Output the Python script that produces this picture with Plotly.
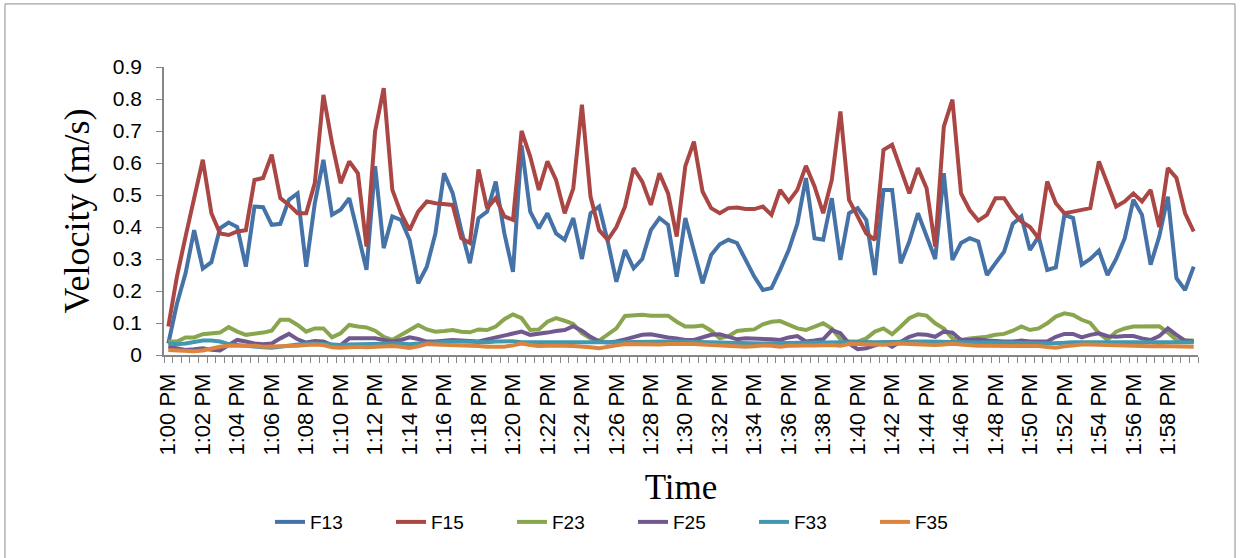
import pandas as pd
import plotly.graph_objects as go

# Time stamps: one sample every 30 s from 1:00 PM to 1:59:30 PM
times = pd.date_range("2000-01-01 13:00:00", periods=120, freq="30s")

tick_times = pd.date_range("2000-01-01 13:00:00", periods=30, freq="2min")
tick_labels = ["1:00 PM", "1:02 PM", "1:04 PM", "1:06 PM", "1:08 PM", "1:10 PM",
               "1:12 PM", "1:14 PM", "1:16 PM", "1:18 PM", "1:20 PM", "1:22 PM",
               "1:24 PM", "1:26 PM", "1:28 PM", "1:30 PM", "1:32 PM", "1:34 PM",
               "1:36 PM", "1:38 PM", "1:40 PM", "1:42 PM", "1:44 PM", "1:46 PM",
               "1:48 PM", "1:50 PM", "1:52 PM", "1:54 PM", "1:56 PM", "1:58 PM"]

F13 = [0.036, 0.16, 0.255, 0.39, 0.27, 0.29, 0.396, 0.414, 0.40, 0.276,
       0.464, 0.462, 0.407, 0.41, 0.485, 0.505, 0.276, 0.474, 0.61, 0.438,
       0.454, 0.49, 0.38, 0.266, 0.59, 0.334, 0.433, 0.422, 0.36, 0.224,
       0.276, 0.38, 0.568, 0.506, 0.39, 0.287, 0.428, 0.448, 0.542, 0.38,
       0.26, 0.655, 0.448, 0.396, 0.443, 0.38, 0.36, 0.428, 0.30, 0.443,
       0.464, 0.355, 0.229, 0.328, 0.271, 0.30, 0.39, 0.428, 0.407, 0.245,
       0.428, 0.323, 0.224, 0.313, 0.346, 0.36, 0.35, 0.297, 0.245, 0.203,
       0.209, 0.266, 0.328, 0.41, 0.553, 0.365, 0.36, 0.49, 0.297, 0.443,
       0.459, 0.422, 0.25, 0.516, 0.516, 0.287, 0.355, 0.443, 0.375, 0.30,
       0.568, 0.297, 0.35, 0.365, 0.355, 0.25, 0.287, 0.323, 0.41, 0.433,
       0.328, 0.37, 0.266, 0.274, 0.438, 0.428, 0.282, 0.30, 0.326, 0.25,
       0.30, 0.365, 0.485, 0.438, 0.282, 0.37, 0.495, 0.24, 0.203, 0.276]

F15 = [0.089, 0.245, 0.37, 0.485, 0.61, 0.443, 0.38, 0.375, 0.386, 0.39,
       0.547, 0.553, 0.626, 0.49, 0.469, 0.443, 0.443, 0.537, 0.813, 0.662,
       0.537, 0.605, 0.568, 0.339, 0.699, 0.834, 0.516, 0.443, 0.39, 0.448,
       0.48, 0.474, 0.472, 0.469, 0.365, 0.35, 0.58, 0.459, 0.49, 0.433,
       0.422, 0.70, 0.62, 0.516, 0.605, 0.547, 0.443, 0.521, 0.782, 0.495,
       0.39, 0.36, 0.40, 0.464, 0.584, 0.542, 0.469, 0.568, 0.505, 0.37,
       0.59, 0.667, 0.511, 0.459, 0.443, 0.459, 0.461, 0.456, 0.456, 0.464,
       0.438, 0.516, 0.48, 0.516, 0.591, 0.527, 0.443, 0.547, 0.761, 0.485,
       0.433, 0.38, 0.36, 0.641, 0.657, 0.579, 0.505, 0.584, 0.521, 0.339,
       0.714, 0.798, 0.505, 0.453, 0.42, 0.438, 0.49, 0.49, 0.448, 0.417,
       0.40, 0.365, 0.542, 0.474, 0.443, 0.448, 0.453, 0.459, 0.605, 0.532,
       0.464, 0.48, 0.505, 0.48, 0.516, 0.40, 0.584, 0.553, 0.443, 0.386]

F23 = [0.042, 0.042, 0.055, 0.055, 0.065, 0.066, 0.07, 0.087, 0.073, 0.063,
       0.066, 0.07, 0.076, 0.11, 0.11, 0.094, 0.073, 0.083, 0.083, 0.055,
       0.068, 0.094, 0.089, 0.086, 0.076, 0.057, 0.047, 0.063, 0.078, 0.094,
       0.08, 0.073, 0.075, 0.078, 0.073, 0.071, 0.08, 0.078, 0.089, 0.112,
       0.127, 0.115, 0.078, 0.08, 0.104, 0.115, 0.107, 0.097, 0.068, 0.052,
       0.045, 0.063, 0.083, 0.122, 0.125, 0.126, 0.123, 0.124, 0.123, 0.104,
       0.089, 0.089, 0.092, 0.076, 0.052, 0.059, 0.075, 0.078, 0.08, 0.096,
       0.104, 0.106, 0.094, 0.083, 0.078, 0.089, 0.099, 0.083, 0.049, 0.042,
       0.042, 0.052, 0.073, 0.083, 0.065, 0.089, 0.115, 0.127, 0.123, 0.099,
       0.083, 0.052, 0.047, 0.052, 0.054, 0.057, 0.063, 0.066, 0.076, 0.089,
       0.078, 0.083, 0.099, 0.12, 0.13, 0.125, 0.11, 0.10, 0.068, 0.047,
       0.073, 0.083, 0.089, 0.089, 0.087, 0.09, 0.07, 0.047, 0.045, 0.045]

F25 = [0.026, 0.021, 0.016, 0.018, 0.021, 0.016, 0.014, 0.031, 0.047, 0.042,
       0.036, 0.034, 0.036, 0.052, 0.066, 0.049, 0.039, 0.044, 0.042, 0.031,
       0.031, 0.052, 0.052, 0.05, 0.052, 0.047, 0.042, 0.047, 0.055, 0.05,
       0.042, 0.042, 0.044, 0.047, 0.045, 0.042, 0.042, 0.049, 0.055, 0.059,
       0.068, 0.073, 0.063, 0.065, 0.07, 0.075, 0.078, 0.09, 0.076, 0.057,
       0.042, 0.039, 0.042, 0.049, 0.057, 0.063, 0.065, 0.059, 0.055, 0.052,
       0.047, 0.047, 0.055, 0.063, 0.065, 0.057, 0.049, 0.052, 0.052, 0.05,
       0.049, 0.047, 0.055, 0.059, 0.042, 0.045, 0.049, 0.078, 0.068, 0.036,
       0.018, 0.021, 0.031, 0.039, 0.026, 0.042, 0.057, 0.065, 0.063, 0.057,
       0.073, 0.07, 0.047, 0.047, 0.049, 0.045, 0.042, 0.042, 0.042, 0.045,
       0.042, 0.042, 0.042, 0.057, 0.066, 0.066, 0.055, 0.063, 0.068, 0.059,
       0.057, 0.059, 0.059, 0.052, 0.047, 0.059, 0.083, 0.063, 0.045, 0.042]

F33 = [0.036, 0.034, 0.036, 0.042, 0.045, 0.045, 0.042, 0.034, 0.031, 0.029,
       0.026, 0.024, 0.023, 0.026, 0.028, 0.034, 0.036, 0.036, 0.034, 0.031,
       0.031, 0.033, 0.034, 0.036, 0.036, 0.036, 0.036, 0.036, 0.034, 0.036,
       0.038, 0.04, 0.041, 0.042, 0.042, 0.041, 0.04, 0.04, 0.042, 0.044,
       0.043, 0.04, 0.04, 0.039, 0.039, 0.04, 0.04, 0.039, 0.039, 0.038,
       0.037, 0.037, 0.038, 0.04, 0.041, 0.042, 0.042, 0.042, 0.042, 0.042,
       0.042, 0.042, 0.041, 0.04, 0.039, 0.038, 0.037, 0.036, 0.036, 0.036,
       0.037, 0.038, 0.039, 0.04, 0.04, 0.039, 0.039, 0.04, 0.041, 0.042,
       0.042, 0.041, 0.04, 0.041, 0.042, 0.043, 0.043, 0.042, 0.042, 0.041,
       0.04, 0.04, 0.04, 0.039, 0.039, 0.04, 0.04, 0.039, 0.038, 0.038,
       0.038, 0.037, 0.036, 0.036, 0.038, 0.04, 0.04, 0.04, 0.039, 0.038,
       0.038, 0.038, 0.038, 0.037, 0.037, 0.038, 0.038, 0.04, 0.04, 0.04]

F35 = [0.016, 0.014, 0.012, 0.012, 0.014, 0.021, 0.026, 0.029, 0.029, 0.03,
       0.029, 0.026, 0.026, 0.028, 0.029, 0.029, 0.031, 0.033, 0.031, 0.024,
       0.023, 0.026, 0.026, 0.024, 0.026, 0.028, 0.028, 0.026, 0.022, 0.027,
       0.034, 0.033, 0.032, 0.033, 0.033, 0.031, 0.028, 0.026, 0.025, 0.026,
       0.03, 0.036, 0.031, 0.028, 0.029, 0.03, 0.029, 0.028, 0.027, 0.024,
       0.021, 0.024, 0.03, 0.034, 0.033, 0.032, 0.033, 0.033, 0.034, 0.035,
       0.035, 0.034, 0.033, 0.031, 0.029, 0.028, 0.026, 0.026, 0.027, 0.03,
       0.029, 0.026, 0.029, 0.031, 0.03, 0.03, 0.031, 0.031, 0.029, 0.034,
       0.034, 0.033, 0.031, 0.032, 0.034, 0.036, 0.034, 0.032, 0.031, 0.031,
       0.033, 0.035, 0.033, 0.03, 0.029, 0.029, 0.029, 0.03, 0.031, 0.031,
       0.03, 0.028, 0.025, 0.023, 0.027, 0.031, 0.033, 0.033, 0.032, 0.03,
       0.029, 0.028, 0.027, 0.027, 0.027, 0.028, 0.028, 0.027, 0.026, 0.026]

series = [("F13", F13, "#4572A7"), ("F15", F15, "#AA4643"), ("F23", F23, "#89A54E"),
          ("F25", F25, "#71588F"), ("F33", F33, "#4198AF"), ("F35", F35, "#DB843D")]

fig = go.Figure()
for name, vals, col in series:
    fig.add_trace(go.Scatter(x=times, y=vals, name=name, mode="lines",
                             line=dict(color=col, width=4)))

AX = "#868686"
half = pd.Timedelta(seconds=15)
fig.update_layout(
    width=1240, height=558,
    margin=dict(l=164, r=42, t=67, b=203),
    paper_bgcolor="white", plot_bgcolor="white",
    font=dict(family="Liberation Sans, Arial, sans-serif", color="black"),
    showlegend=True,
    legend=dict(orientation="h", x=0.1025, xanchor="left", y=-0.58, yanchor="middle",
                font=dict(size=19, family="Liberation Sans, Arial, sans-serif"),
                entrywidth=76, entrywidthmode="pixels"),
    xaxis=dict(type="date", range=[times[0] - half, times[-1] + half],
               tickmode="array", tickvals=tick_times, ticktext=tick_labels,
               tickangle=-90, tickfont=dict(size=22),
               ticks="outside", ticklen=5, tickcolor="rgba(0,0,0,0)",
               ticklabelstandoff=3,
               minor=dict(ticks="outside", ticklen=6, tickcolor=AX, tickwidth=1,
                          tick0=times[0] - half, dtick=30000, showgrid=False),
               showline=True, linecolor=AX, linewidth=1.5, showgrid=False, zeroline=False,
               title=dict(text="Time", font=dict(family="Liberation Serif, Times New Roman, serif", size=35),
                          standoff=20)),
    yaxis=dict(range=[0, 0.9], dtick=0.1, tick0=0, tickfont=dict(size=21),
               ticks="outside", ticklen=6, tickcolor=AX, ticklabelstandoff=10,
               showline=True, linecolor=AX, linewidth=1.5, showgrid=False, zeroline=False,
               title=dict(text="Velocity (m/s)", font=dict(family="Liberation Serif, Times New Roman, serif", size=36),
                          standoff=12)),
    shapes=[dict(type="rect", xref="paper", yref="paper",
                 x0=-0.1538, x1=1.0358, y0=-0.72, y1=1.219,
                 line=dict(color="#8c8c8c", width=1), fillcolor="rgba(0,0,0,0)", layer="below")],
)

fig.write_html("out.html")
